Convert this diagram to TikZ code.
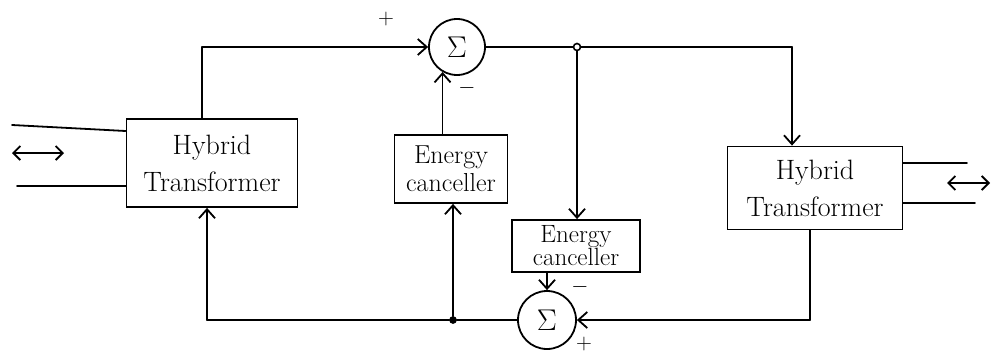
\RequirePackage{fix-cm}
\documentclass[tikz,border=0pt]{standalone}
\usepackage{fontspec}
\setmainfont{Latin Modern Roman}
\usetikzlibrary{arrows.meta}
\begin{document}
\begin{tikzpicture}[x=1pt,y=-1pt,
  wire/.style={line width=1.8pt, line cap=round, line join=round},
  flow/.style={wire, -{Straight Barb[length=9pt,width=16pt]}},
  port/.style={wire, {Straight Barb[length=7pt,width=14pt]}-{Straight Barb[length=7pt,width=14pt]}},
  block/.style={draw, line width=1.8pt, rectangle, inner sep=0pt, align=center},
  hyb/.style={block, minimum width=171pt, minimum height=88pt, font=\fontsize{28}{37}\selectfont},
  canc/.style={block, font=\fontsize{26}{28}\selectfont},
  summer/.style={draw, circle, line width=1.8pt, inner sep=0pt, minimum size=56pt, font=\fontsize{30}{30}\selectfont},
  sign/.style={font=\fontsize{22}{22}\selectfont, inner sep=0pt},
  junction/.style={circle, draw, line width=1.6pt, inner sep=0pt, minimum size=7pt}
]
\useasboundingbox (0,0) rectangle (992,356);

% blocks
\node[hyb] (htl) at (212,163) {Hybrid\\Transformer};
\node[hyb, minimum width=175pt, minimum height=83pt] (htr) at (815,188) {Hybrid\\Transformer};
\node[canc, minimum width=113pt, minimum height=68pt] (ecm) at (451,169) {Energy\\canceller};
\node[canc, minimum width=128pt, minimum height=52pt, font=\fontsize{25}{23}\selectfont] (ecb) at (576,246) {Energy\\canceller};

% summing points
\node[summer] (sumt) at (457,47) {$\Sigma$};
\node[summer, minimum size=58pt] (sumb) at (547,320) {$\Sigma$};

% branch points
\node[junction, fill=white] (tap) at (577,47) {};
\node[junction, fill=black, minimum size=6pt] (jb) at (453,320) {};
\coordinate (tr) at (792,47);
\coordinate (br) at (810,320);
\coordinate (bl) at (207,320);
\coordinate (tl) at (202,47);

% sign labels
\node[sign] (pt) at (386,19) {$+$};
\node[sign] (mt) at (467,88) {$-$};
\node[sign] (mb) at (580,287) {$-$};
\node[sign] (pb) at (584,344) {$+$};

% line ports
\draw[wire] (12,125) -- (htl.west |- 0,131);
\draw[wire] (17,186) -- (htl.west |- 0,186);
\draw[port] (12,153) -- (64,153);
\draw[wire] (htr.east |- 0,163) -- (967,163);
\draw[wire] (htr.east |- 0,203) -- (975,203);
\draw[port] (947,183) -- (990,183);

% transmit path from the left
\draw[wire] (htl.north -| tl) -- (tl);
\draw[flow] (tl) -- (sumt.west);
\draw[wire] (sumt.east) -- (tap.west);
\draw[wire] (tap.east) -- (tr);
\draw[flow] (tr) -- (htr.north -| tr);
\draw[flow] (tap.south) -- (ecb.north -| tap);
\draw[flow] (ecm.north -| sumt.240) -- (sumt.240);

% return path from the right
\draw[wire] (htr.south -| br) -- (br);
\draw[flow] (br) -- (sumb.east);
\draw[wire] (sumb.west) -- (jb);
\draw[wire] (jb) -- (bl);
\draw[flow] (bl) -- (htl.south -| bl);
\draw[flow] (jb) -- (ecm.south -| jb);
\draw[flow] (ecb.south -| sumb.north) -- (sumb.north);
\end{tikzpicture}
\end{document}
